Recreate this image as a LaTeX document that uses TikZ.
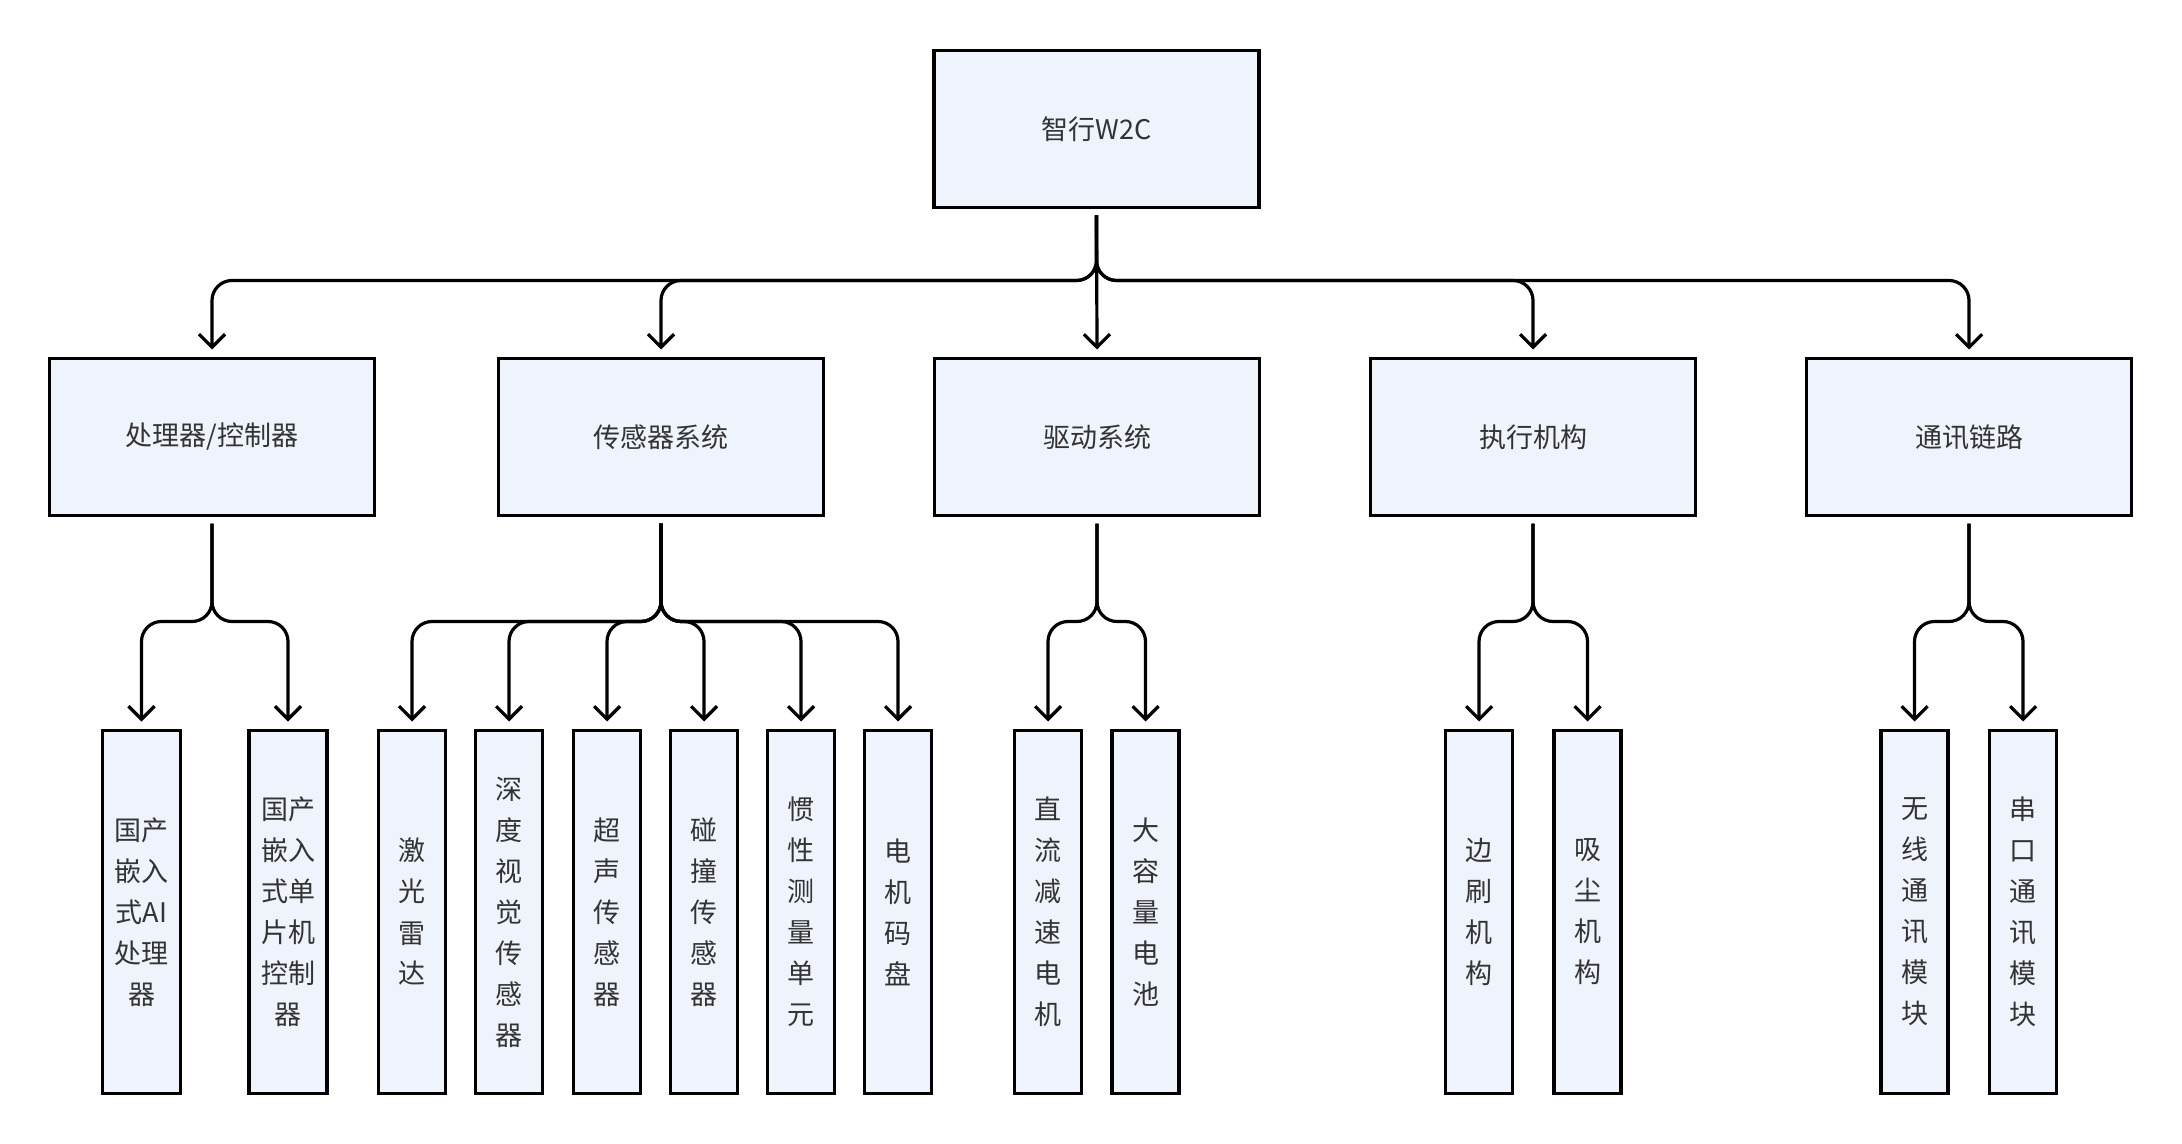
\documentclass[tikz,border=0pt]{standalone}
\usepackage{fontspec}
\setmainfont{Noto Sans CJK SC}
\newfontfamily\cjk{Noto Sans CJK SC}
\usetikzlibrary{arrows.meta}
\definecolor{boxfill}{HTML}{EEF3FC}
\definecolor{textc}{HTML}{333333}
\tikzset{
  box/.style={draw=black, line width=1.7pt, fill=boxfill, text=textc,
    font=\cjk\fontsize{13.5pt}{20.5pt}\selectfont, align=center,
    inner sep=0pt, outer sep=0pt},
  wide/.style={box, minimum width=162.5pt, minimum height=78.5pt},
  leafw/.style={box, minimum width=39pt, minimum height=181.5pt},
  leafn/.style={box, minimum width=33.5pt, minimum height=181.5pt},
  conn/.style={-{Straight Barb[length=6.5pt,width=13pt]}, line width=1.6pt,
    rounded corners=10pt, draw=black},
}
\begin{document}
\begin{tikzpicture}[x=0.5pt,y=-0.5pt]
\fill[white] (0,0) rectangle (2182,1144);
\useasboundingbox (0,0) rectangle (2182,1144);

\node[wide] (top) at (1096.5,129) {智行W2C};

\node[wide] (proc) at (212,437) {处理器/控制器};
\node[wide] (sens) at (661,437) {传感器系统};
\node[wide] (drv)  at (1097,437) {驱动系统};
\node[wide] (act)  at (1533,437) {执行机构};
\node[wide] (com)  at (1969,437) {通讯链路};

\node[leafw] (p1) at (141.5,912) {国产\\嵌入\\式AI\\处理\\器};
\node[leafw] (p2) at (288,912) {国产\\嵌入\\式单\\片机\\控制\\器};

\node[leafn] (s1) at (412,912) {激\\光\\雷\\达};
\node[leafn] (s2) at (509,912) {深\\度\\视\\觉\\传\\感\\器};
\node[leafn] (s3) at (607,912) {超\\声\\传\\感\\器};
\node[leafn] (s4) at (704,912) {碰\\撞\\传\\感\\器};
\node[leafn] (s5) at (801,912) {惯\\性\\测\\量\\单\\元};
\node[leafn] (s6) at (898,912) {电\\机\\码\\盘};

\node[leafn] (d1) at (1048,912) {直\\流\\减\\速\\电\\机};
\node[leafn] (d2) at (1145.5,912) {大\\容\\量\\电\\池};

\node[leafn] (a1) at (1479,912) {边\\刷\\机\\构};
\node[leafn] (a2) at (1587.5,912) {吸\\尘\\机\\构};

\node[leafn] (c1) at (1914.5,912) {无\\线\\通\\讯\\模\\块};
\node[leafn] (c2) at (2023,912) {串\\口\\通\\讯\\模\\块};

% level 1 -> level 2
\foreach \n in {proc,sens,act,com}{
  \draw[conn] ([yshift=-4pt]top.south) -- ++(0,65) -| ([yshift=4.5pt]\n.north);
}
\draw[conn] ([yshift=-4pt]top.south) -- ([yshift=4.5pt]drv.north);

% level 2 -> level 3
\foreach \n in {p1,p2}{
  \draw[conn] ([yshift=-4pt]proc.south) -- ++(0,98) -| ([yshift=4.5pt]\n.north);
}
\foreach \n in {s1,s2,s3,s4,s5,s6}{
  \draw[conn] ([yshift=-4pt]sens.south) -- ++(0,98) -| ([yshift=4.5pt]\n.north);
}
\foreach \n in {d1,d2}{
  \draw[conn] ([yshift=-4pt]drv.south) -- ++(0,98) -| ([yshift=4.5pt]\n.north);
}
\foreach \n in {a1,a2}{
  \draw[conn] ([yshift=-4pt]act.south) -- ++(0,98) -| ([yshift=4.5pt]\n.north);
}
\foreach \n in {c1,c2}{
  \draw[conn] ([yshift=-4pt]com.south) -- ++(0,98) -| ([yshift=4.5pt]\n.north);
}
\end{tikzpicture}
\end{document}
